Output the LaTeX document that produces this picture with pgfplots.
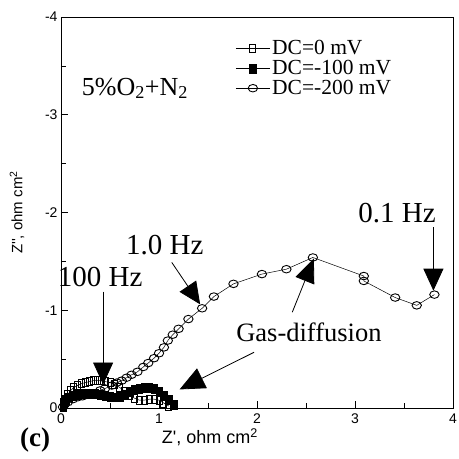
\documentclass[border=0pt]{standalone}
\usepackage{fontspec}
\setmainfont{Liberation Serif}
\newfontfamily\arial{Liberation Sans}
\usepackage{pgfplots}
\pgfplotsset{compat=1.18}
\usetikzlibrary{arrows.meta,calc}

\begin{document}
\begin{tikzpicture}
\begin{axis}[
    name=ax,
    scale only axis, width=392pt, height=391pt,
    xmin=0, xmax=4, ymin=-4, ymax=0,
    y dir=reverse,
    clip=false,
    axis line style={line width=0.8pt},
    xtick={0,1,2,3,4}, xticklabels={0,1,2,3,4},
    ytick={-4,-3,-2,-1,0}, yticklabels={-4,-3,-2,-1,0},
    minor x tick num=1, minor y tick num=1,
    tick pos=left, tick align=inside,
    major tick length=7pt, minor tick length=5pt,
    tick style={line width=0.6pt, black},
    /pgf/number format/assume math mode=true,
    tick label style={font=\arial\fontsize{14}{14}\selectfont},
    xticklabel style={yshift=-2pt},
    xlabel={Z', ohm cm\textsuperscript{2}},
    ylabel={Z'', ohm cm\textsuperscript{2}},
    xlabel style={font=\arial\fontsize{18}{18}\selectfont,
      at={(axis description cs:0.38,-0.074)}, anchor=center},
    ylabel style={font=\arial\fontsize{15}{15}\selectfont,
      at={(axis description cs:-0.112,0.5)}, anchor=center},
    legend style={at={(rel axis cs:0.445,0.945)}, anchor=north west,
      draw=none, fill=none, inner sep=0pt, row sep=0pt,
      font=\fontsize{21.5}{21.5}\selectfont},
    legend cell align=left,
    legend image code/.code={
      \draw[#1, mark repeat=2, mark phase=2] plot coordinates {(-17pt,0pt)(0pt,0pt)(17pt,0pt)};
    },
]
% DC = 0 mV (open squares)
\addplot[black, line width=0.5pt, mark=square, mark size=3pt,
  mark options={line width=0.9pt, fill=white, yscale=1.4}]
  coordinates {(0.02,-0.02)(0.04,-0.09)(0.07,-0.14)(0.10,-0.18)(0.13,-0.21)(0.17,-0.23)
  (0.21,-0.25)(0.25,-0.26)(0.29,-0.27)(0.33,-0.28)(0.37,-0.28)(0.41,-0.28)(0.45,-0.27)
  (0.50,-0.26)(0.55,-0.24)(0.60,-0.21)(0.65,-0.17)(0.70,-0.13)(0.75,-0.10)(0.80,-0.08)
  (0.85,-0.08)(0.90,-0.09)(0.95,-0.09)(1.00,-0.08)(1.05,-0.05)(1.10,-0.02)};
\addlegendentry{DC=0 mV}
% DC = -100 mV (filled squares)
\addplot[black, line width=0.5pt, mark=square*, mark size=3.2pt,
  mark options={yscale=1.4}]
  coordinates {(0.02,-0.01)(0.03,-0.05)(0.05,-0.08)(0.08,-0.11)(0.12,-0.13)(0.16,-0.14)
  (0.20,-0.15)(0.25,-0.15)(0.30,-0.15)(0.35,-0.15)(0.40,-0.14)(0.45,-0.13)(0.50,-0.12)
  (0.55,-0.11)(0.60,-0.12)(0.65,-0.14)(0.70,-0.17)(0.75,-0.19)(0.80,-0.20)(0.85,-0.21)
  (0.90,-0.21)(0.95,-0.20)(1.00,-0.17)(1.05,-0.13)(1.10,-0.08)(1.15,-0.03)};
\addlegendentry{DC=-100 mV}
% DC = -200 mV (open circles)
\addplot[black, line width=0.5pt, mark=o, mark size=4.7pt,
  mark options={line width=0.9pt, fill=white, yscale=0.8}]
  coordinates {(0.02,-0.01)(0.04,-0.04)(0.07,-0.06)(0.12,-0.09)(0.17,-0.11)(0.22,-0.12)
  (0.28,-0.14)(0.34,-0.15)(0.40,-0.18)(0.45,-0.20)(0.52,-0.23)(0.57,-0.26)(0.62,-0.28)
  (0.67,-0.31)(0.72,-0.34)(0.78,-0.37)(0.84,-0.42)(0.89,-0.46)(0.95,-0.51)(1.00,-0.56)
  (1.05,-0.62)(1.09,-0.69)(1.14,-0.75)(1.20,-0.81)(1.30,-0.91)(1.44,-1.02)(1.56,-1.14)
  (1.76,-1.27)(2.05,-1.37)(2.30,-1.42)(2.57,-1.54)(3.09,-1.35)(3.09,-1.30)(3.41,-1.13)
  (3.63,-1.05)(3.81,-1.16)};
\addlegendentry{DC=-200 mV}

% annotations
\node[font=\fontsize{26}{26}\selectfont] at (axis cs:0.755,-3.27) {5\%O\textsubscript{2}+N\textsubscript{2}};
\node[font=\fontsize{29}{29}\selectfont] at (axis cs:0.40,-1.34) {100 Hz};
\node[font=\fontsize{29}{29}\selectfont] at (axis cs:1.06,-1.67) {1.0 Hz};
\node[font=\fontsize{29}{29}\selectfont] at (axis cs:3.43,-1.99) {0.1 Hz};
\node[font=\fontsize{26.5}{26.5}\selectfont] at (axis cs:2.53,-0.77) {Gas-diffusion};
\draw[line width=0.8pt, -{Triangle[width=20pt,length=22pt]}] (axis cs:0.43,-1.19) -- (axis cs:0.43,-0.24);
\draw[line width=0.8pt, -{Triangle[width=20pt,length=22pt]}] (axis cs:1.13,-1.49) -- (axis cs:1.42,-1.06);
\draw[line width=0.8pt, -{Triangle[width=20pt,length=22pt]}] (axis cs:3.80,-1.85) -- (axis cs:3.80,-1.20);
\draw[line width=0.8pt, -{Triangle[width=22pt,length=25pt]}] (axis cs:1.97,-0.57) -- (axis cs:1.21,-0.19);
\draw[line width=0.8pt, -{Triangle[width=20pt,length=24pt]}] (axis cs:2.36,-0.98) -- (axis cs:2.58,-1.53);
\node[font=\bfseries\fontsize{27}{27}\selectfont] at (axis cs:-0.265,0.33) {(c)};

\coordinate (SW) at (rel axis cs:0,0);
\coordinate (NE) at (rel axis cs:1,1);
\end{axis}
\pgfresetboundingbox
\useasboundingbox ($(SW)+(-61pt,-51pt)$) rectangle ($(NE)+(5pt,17pt)$);
\end{tikzpicture}
\end{document}
